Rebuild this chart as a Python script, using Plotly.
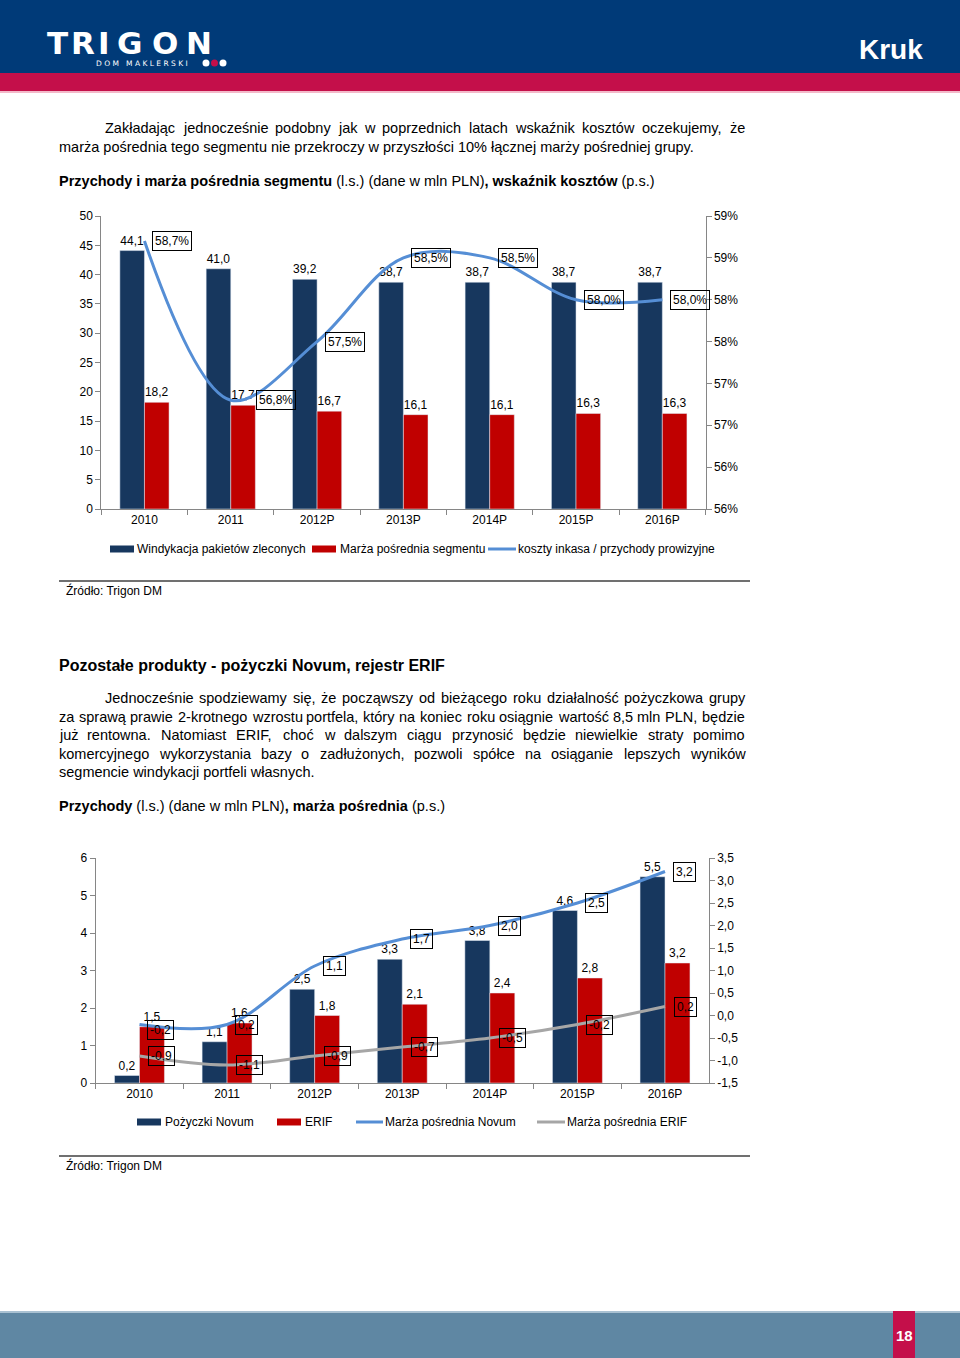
import plotly.graph_objects as go

W, H = 960, 1358

# ---------------- data: chart 1 ----------------
years = ["2010", "2011", "2012P", "2013P", "2014P", "2015P", "2016P"]
windykacja = [44.1, 41.0, 39.2, 38.7, 38.7, 38.7, 38.7]
marza_segmentu = [18.2, 17.7, 16.7, 16.1, 16.1, 16.3, 16.3]
koszty_ratio = [58.7, 56.8, 57.5, 58.5, 58.5, 58.0, 58.0]
names1 = ["Windykacja pakietów zleconych", "Marża pośrednia segmentu",
          "koszty inkasa / przychody prowizyjne"]
y1_ticks = [0, 5, 10, 15, 20, 25, 30, 35, 40, 45, 50]
y2_ticks = [55.5, 56.0, 56.5, 57.0, 57.5, 58.0, 58.5, 59.0]
y2_ticktext = ["56%", "56%", "57%", "57%", "58%", "58%", "59%", "59%"]

# ---------------- data: chart 2 ----------------
pozyczki_novum = [0.2, 1.1, 2.5, 3.3, 3.8, 4.6, 5.5]
erif = [1.5, 1.6, 1.8, 2.1, 2.4, 2.8, 3.2]
marza_novum = [-0.2, -0.2, 1.1, 1.7, 2.0, 2.5, 3.2]
marza_novum_labels = ["-0,2", "0,2", "1,1", "1,7", "2,0", "2,5", "3,2"]
marza_erif = [-0.9, -1.1, -0.9, -0.7, -0.5, -0.2, 0.2]
names2 = ["Pożyczki Novum", "ERIF", "Marża pośrednia Novum", "Marża pośrednia ERIF"]
y3_ticks = [0, 1, 2, 3, 4, 5, 6]
y4_ticks = [-1.5, -1.0, -0.5, 0.0, 0.5, 1.0, 1.5, 2.0, 2.5, 3.0, 3.5]
y4_ticktext = ["-1,5", "-1,0", "-0,5", "0,0", "0,5", "1,0", "1,5", "2,0", "2,5", "3,0", "3,5"]

# ---------------- page text ----------------
para1_first = "Zakładając jednocześnie podobny jak w poprzednich latach wskaźnik kosztów oczekujemy, że"
para1_last = "marża pośrednia tego segmentu nie przekroczy w przyszłości 10% łącznej marży pośredniej grupy."
title1 = ("<b>Przychody i marża pośrednia segmentu</b> (l.s.) (dane w mln PLN)"
          "<b>, wskaźnik kosztów</b> (p.s.)")
heading2 = "<b>Pozostałe produkty - pożyczki Novum, rejestr ERIF</b>"
para2 = ["Jednocześnie spodziewamy się, że począwszy od bieżącego roku działalność pożyczkowa grupy",
         "za sprawą prawie 2-krotnego wzrostu portfela, który na koniec roku osiągnie wartość 8,5 mln PLN, będzie",
         "już rentowna. Natomiast ERIF, choć w dalszym ciągu przynosić będzie niewielkie straty pomimo",
         "komercyjnego wykorzystania bazy o zadłużonych, pozwoli spółce na osiąganie lepszych wyników",
         "segmencie windykacji portfeli własnych."]
title2 = "<b>Przychody</b> (l.s.) (dane w mln PLN)<b>, marża pośrednia</b> (p.s.)"
source = "Źródło: Trigon DM"

# ---------------- styles ----------------
NAVY = "#17375e"
RED = "#c00000"
BLUE = "#558ed5"
GRAY = "#a6a6a6"
AX = "#868686"
FONT = "Liberation Sans, Arial, sans-serif"
NARROW = "Liberation Sans Narrow, Arial Narrow, Liberation Sans, sans-serif"


def pl(v):
    return f"{v:.1f}".replace(".", ",")


def PX(x):
    return x / W


def PY(y):
    return 1 - y / H


fig = go.Figure()

bar_common = dict(textposition="outside", cliponaxis=False, constraintext="none",
                  textfont=dict(size=12, color="#000", family=FONT), showlegend=False,
                  hoverinfo="skip")

# chart 1
fig.add_bar(x=years, y=windykacja, name=names1[0], marker_color=NAVY,
            text=[pl(v) for v in windykacja], xaxis="x", yaxis="y", **bar_common)
fig.add_bar(x=years, y=marza_segmentu, name=names1[1], marker_color=RED,
            text=[pl(v) for v in marza_segmentu], xaxis="x", yaxis="y", **bar_common)
fig.add_scatter(x=years, y=koszty_ratio, name=names1[2], mode="lines",
                line=dict(color=BLUE, width=3, shape="spline", smoothing=1),
                xaxis="x", yaxis="y2", showlegend=False, hoverinfo="skip")

# chart 2
fig.add_bar(x=years, y=pozyczki_novum, name=names2[0], marker_color=NAVY,
            text=[pl(v) for v in pozyczki_novum], xaxis="x2", yaxis="y3", **bar_common)
fig.add_bar(x=years, y=erif, name=names2[1], marker_color=RED,
            text=[pl(v) for v in erif], xaxis="x2", yaxis="y3", **bar_common)
fig.add_scatter(x=years, y=marza_novum, name=names2[2], mode="lines",
                line=dict(color=BLUE, width=3, shape="spline", smoothing=1),
                xaxis="x2", yaxis="y4", showlegend=False, hoverinfo="skip")
fig.add_scatter(x=years, y=marza_erif, name=names2[3], mode="lines",
                line=dict(color=GRAY, width=3, shape="spline", smoothing=1),
                xaxis="x2", yaxis="y4", showlegend=False, hoverinfo="skip")

annotations = []
shapes = []

# boxed labels for lines (x given as category index on the category axis)
box = dict(showarrow=False, xanchor="left", yanchor="middle", bordercolor="#000",
           borderwidth=1, borderpad=2, font=dict(size=12, color="#000", family=FONT))
for i, v in enumerate(koszty_ratio):
    annotations.append(dict(x=i, y=v, xref="x", yref="y2", text=pl(v) + "%",
                            xshift=25 if i == 1 else 8, **box))
for i, (v, t) in enumerate(zip(marza_novum, marza_novum_labels)):
    annotations.append(dict(x=i, y=v, xref="x2", yref="y4", text=t, xshift=8,
                            yshift=-5 if i == 0 else 0, **box))
for i, v in enumerate(marza_erif):
    annotations.append(dict(x=i, y=v, xref="x2", yref="y4", text=pl(v), xshift=9, **box))

# ---------------- text helpers ----------------
AW = {' ': 278, ',': 278, '.': 278, '-': 333, ':': 278, '%': 889, '(': 333, ')': 333, '/': 278,
      'a': 556, 'b': 556, 'c': 500, 'd': 556, 'e': 556, 'f': 278, 'g': 556, 'h': 556, 'i': 222,
      'j': 222, 'k': 500, 'l': 222, 'm': 833, 'n': 556, 'o': 556, 'p': 556, 'q': 556, 'r': 333,
      's': 500, 't': 278, 'u': 556, 'v': 500, 'w': 722, 'x': 500, 'y': 500, 'z': 500,
      'A': 667, 'B': 667, 'C': 722, 'D': 722, 'E': 667, 'F': 611, 'G': 778, 'H': 722, 'I': 278,
      'J': 500, 'K': 667, 'L': 556, 'M': 833, 'N': 722, 'O': 778, 'P': 667, 'Q': 778, 'R': 722,
      'S': 667, 'T': 611, 'U': 722, 'V': 667, 'W': 944, 'X': 667, 'Y': 667, 'Z': 611,
      'ą': 556, 'ć': 500, 'ę': 556, 'ł': 222, 'ń': 556, 'ó': 556, 'ś': 500, 'ź': 500, 'ż': 500,
      'Ź': 611, 'Ż': 611, 'Ł': 556, 'Ś': 667}


def tw(s, size):
    return sum(AW.get(ch, 556) for ch in s) * size / 1000.0


BODY = 14.5
txt = dict(showarrow=False, xref="paper", yref="paper", xanchor="left", yanchor="middle",
           borderpad=0, borderwidth=0)


def text_line(s, x, y, size=BODY, color="#000", family=FONT):
    annotations.append(dict(x=PX(x), y=PY(y), text=s,
                            font=dict(size=size, color=color, family=family), **txt))


def justified(s, x0, x1, y, size=BODY):
    words = s.split(" ")
    total = sum(tw(w, size) for w in words)
    gap = (x1 - x0 - total) / (len(words) - 1)
    x = x0
    for w in words:
        text_line(w, x, y, size)
        x += tw(w, size) + gap


justified(para1_first, 105, 745, 128)
text_line(para1_last, 59, 147)
text_line(title1, 59, 181)
text_line(source, 66, 590, size=12)
text_line(heading2, 59, 665, size=16)
para_y = [698, 716.5, 735, 753.5, 772]
for i, (line, yy) in enumerate(zip(para2, para_y)):
    if i == len(para2) - 1:
        text_line(line, 59, yy)
    else:
        justified(line, 105 if i == 0 else 59, 745, yy)
text_line(title2, 59, 806)
text_line(source, 66, 1165, size=12)

# source rules
for yy in (581, 1156):
    shapes.append(dict(type="line", xref="paper", yref="paper", x0=PX(59), x1=PX(750),
                       y0=PY(yy), y1=PY(yy), line=dict(color="#404040", width=1.5)))

# ---------------- manual legends ----------------
def leg_rect(x0, x1, y, color):
    shapes.append(dict(type="rect", xref="paper", yref="paper", x0=PX(x0), x1=PX(x1),
                       y0=PY(y + 3.5), y1=PY(y - 3.5), fillcolor=color, line=dict(width=0)))


def leg_line(x0, x1, y, color):
    shapes.append(dict(type="line", xref="paper", yref="paper", x0=PX(x0), x1=PX(x1),
                       y0=PY(y), y1=PY(y), line=dict(color=color, width=3)))


leg_rect(110, 134, 549, NAVY)
text_line(names1[0], 137, 549, size=12)
leg_rect(312, 336, 549, RED)
text_line(names1[1], 340, 549, size=12)
leg_line(488, 516, 549, BLUE)
text_line(names1[2], 518, 549, size=12)

leg_rect(137, 161, 1122, NAVY)
text_line(names2[0], 165, 1122, size=12)
leg_rect(277, 301, 1122, RED)
text_line(names2[1], 305, 1122, size=12)
leg_line(356, 383, 1122, BLUE)
text_line(names2[2], 385, 1122, size=12)
leg_line(537, 565, 1122, GRAY)
text_line(names2[3], 567, 1122, size=12)

# ---------------- header / footer ----------------
def prect(x0, y0, x1, y1, color):
    shapes.append(dict(type="rect", xref="paper", yref="paper", x0=PX(x0), x1=PX(x1),
                       y0=PY(y1), y1=PY(y0), fillcolor=color, line=dict(width=0), layer="below"))


prect(0, 0, W, 73, "#003a78")
prect(0, 73, W, 91, "#c40f4a")
prect(0, 91, W, 93, "#f3b9c9")
prect(0, 1311, W, 1313, "#a9c1d2")
prect(0, 1313, W, H, "#5f87a3")
prect(893, 1311, 915, H, "#c40f4a")

logo_letters = ["T", "R", "I", "G", "O", "N"]
logo_x = [57, 83, 104, 129, 165, 199]
for ch, xx in zip(logo_letters, logo_x):
    annotations.append(dict(x=PX(xx), y=PY(43), text="<b>" + ch + "</b>", showarrow=False,
                            xref="paper", yref="paper", xanchor="center", yanchor="middle",
                            font=dict(size=31, color="white", family="DejaVu Sans, sans-serif")))
annotations.append(dict(x=PX(142), y=PY(63), text="D O M   M A K L E R S K I", showarrow=False,
                        xref="paper", yref="paper", xanchor="center", yanchor="middle",
                        font=dict(size=7.5, color="white", family="DejaVu Sans, sans-serif")))
for xx, col in ((206, "white"), (214.5, "#c40f4a"), (223, "white")):
    shapes.append(dict(type="circle", xref="paper", yref="paper", x0=PX(xx - 3.5), x1=PX(xx + 3.5),
                       y0=PY(63 + 3.5), y1=PY(63 - 3.5), fillcolor=col, line=dict(width=0)))
annotations.append(dict(x=PX(925), y=PY(50), text="<b>Kruk</b>", showarrow=False,
                        xref="paper", yref="paper", xanchor="right", yanchor="middle",
                        font=dict(size=28, color="white", family=NARROW)))
annotations.append(dict(x=PX(904), y=PY(1335), text="<b>18</b>", showarrow=False,
                        xref="paper", yref="paper", xanchor="center", yanchor="middle",
                        font=dict(size=15, color="white", family=NARROW)))

# ---------------- axes ----------------
axis_common = dict(showline=True, linecolor=AX, linewidth=1, ticks="outside", ticklen=5,
                   tickcolor=AX, showgrid=False, zeroline=False, fixedrange=True,
                   tickfont=dict(size=12, color="#000", family=FONT))

x1_dom = [PX(101.3), PX(705.5)]
y1_dom = [PY(509), PY(216)]
x2_dom = [PX(95.7), PX(708.8)]
y3_dom = [PY(1083), PY(858)]

fig.update_layout(
    width=W, height=H, autosize=False,
    margin=dict(l=0, r=0, t=0, b=0, pad=0, autoexpand=False),
    paper_bgcolor="white", plot_bgcolor="white",
    font=dict(family=FONT, size=12, color="#000"),
    separators=", ",
    showlegend=False,
    barmode="group", bargap=0.43, bargroupgap=0,
    xaxis=dict(domain=x1_dom, anchor="y", type="category", tickson="boundaries",
               range=[-0.5, 6.5], tickangle=0, **axis_common),
    yaxis=dict(domain=y1_dom, anchor="x", range=[0, 50], tickvals=y1_ticks, **axis_common),
    yaxis2=dict(overlaying="y", side="right", anchor="x", range=[55.5, 59],
                tickvals=y2_ticks, ticktext=y2_ticktext, **axis_common),
    xaxis2=dict(domain=x2_dom, anchor="y3", type="category", tickson="boundaries",
                range=[-0.5, 6.5], tickangle=0, **axis_common),
    yaxis3=dict(domain=y3_dom, anchor="x2", range=[0, 6], tickvals=y3_ticks, **axis_common),
    yaxis4=dict(overlaying="y3", side="right", anchor="x2", range=[-1.5, 3.5],
                tickvals=y4_ticks, ticktext=y4_ticktext, **axis_common),
    annotations=annotations,
    shapes=shapes,
)

fig.write_html(
    "out.html",
    config={"displayModeBar": False},
    post_script="document.body.style.margin='0';document.body.style.overflow='hidden';",
)
